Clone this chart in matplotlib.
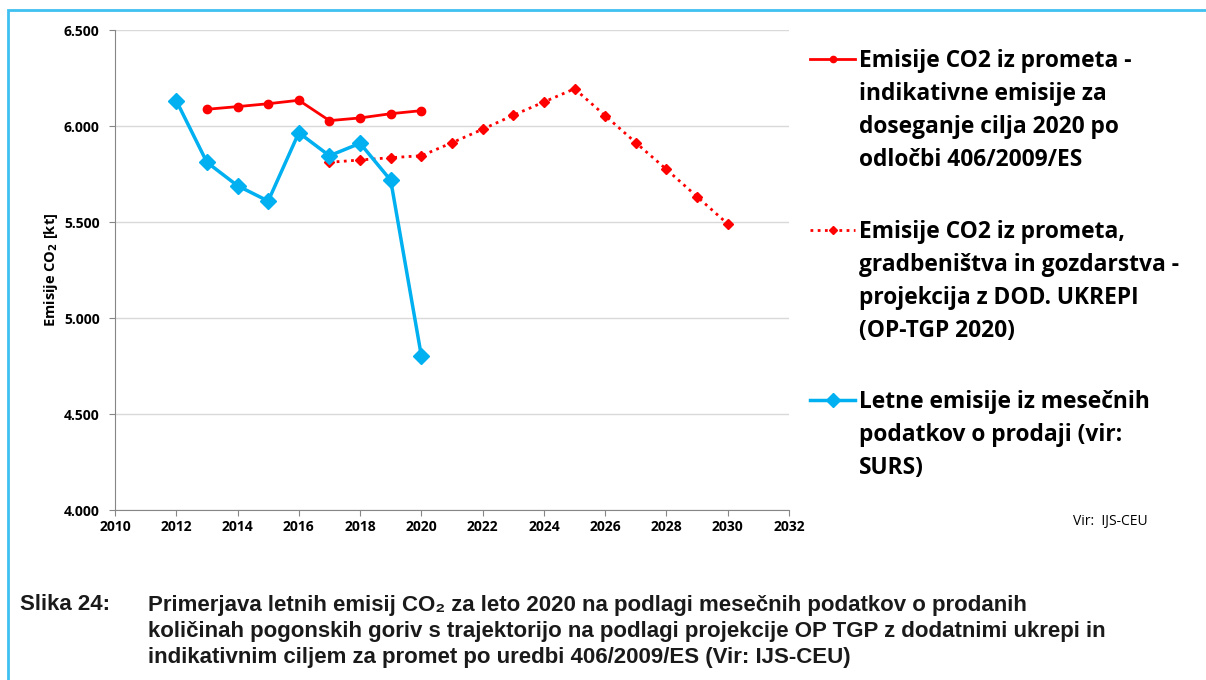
import matplotlib.pyplot as plt
from matplotlib.lines import Line2D
from matplotlib.patches import Rectangle
from matplotlib.ticker import FuncFormatter

# data (kt CO2)
years_target = [2013, 2014, 2015, 2016, 2017, 2018, 2019, 2020]
target = [6087, 6101, 6116, 6134, 6028, 6042, 6064, 6080]

years_proj = list(range(2017, 2031))
projection = [5811, 5823, 5835, 5845, 5913, 5983, 6056, 6125, 6194,
              6054, 5913, 5774, 5632, 5490]

years_surs = list(range(2012, 2021))
surs = [6132, 5811, 5689, 5609, 5965, 5845, 5910, 5717, 4802]

labels = [
    "Emisije CO2 iz prometa -\nindikativne emisije za\ndoseganje cilja 2020 po\nodločbi 406/2009/ES",
    "Emisije CO2 iz prometa,\ngradbeništva in gozdarstva -\nprojekcija z DOD. UKREPI\n(OP-TGP 2020)",
    "Letne emisije iz mesečnih\npodatkov o prodaji (vir:\nSURS)",
]

RED = "#FF0000"
BLUE = "#00B0F0"

plt.rcParams['font.family'] = ['Open Sans', 'DejaVu Sans']
plt.rcParams['font.weight'] = 'bold'

fig = plt.figure(figsize=(12.06, 6.8), dpi=100)
ax = fig.add_axes([115 / 1206, 1 - 510 / 680, 674 / 1206, 480 / 680])

ax.plot(years_target, target, color=RED, lw=2, marker='o', ms=6)
ax.plot(years_proj, projection, color=RED, lw=2, ls=(0, (1, 1.6)),
        marker='D', ms=5.5)
ax.plot(years_surs, surs, color=BLUE, lw=2.5, marker='D', ms=8.5)

ax.set_xlim(2010, 2032)
ax.set_ylim(4000, 6500)
ax.set_xticks(range(2010, 2033, 2))
ax.set_yticks(range(4000, 6501, 500))
ax.yaxis.set_major_formatter(FuncFormatter(lambda v, p: f"{int(v):,}".replace(",", ".")))
ax.grid(axis='y', color='#d9d9d9', lw=1)
ax.set_axisbelow(True)
for s in ['top', 'right']:
    ax.spines[s].set_visible(False)
for s in ['left', 'bottom']:
    ax.spines[s].set_color('#868686')
ax.tick_params(colors='#868686', length=4, labelcolor='black', labelsize=10)
ax.tick_params(axis='y', pad=7)
ax.set_ylabel("Emisije CO$_\\mathbf{2}$ [kt]", fontsize=10.5, fontweight='bold', labelpad=3)

# manual legend (figure pixel coords)
def px(x, y):
    return x / 1206, 1 - y / 680

legend_style = [
    dict(color=RED, lw=2, ls='-', marker='o', ms=4.5),
    dict(color=RED, lw=2, ls=(0, (1, 1.6)), marker='D', ms=4.5),
    dict(color=BLUE, lw=2.5, ls='-', marker='D', ms=7),
]
legend_y = [59, 230, 400]
for lab, st, y in zip(labels, legend_style, legend_y):
    x0, y0 = px(810, y)
    x1, _ = px(855, y)
    fig.add_artist(Line2D([x0, x1], [y0, y0], transform=fig.transFigure,
                          color=st['color'], lw=st['lw'], ls=st['ls']))
    fig.add_artist(Line2D([(x0 + x1) / 2], [y0], transform=fig.transFigure,
                          color=st['color'], marker=st['marker'], ms=st['ms'], ls='none'))
    tx, ty = px(859, y - 10)
    fig.text(tx, ty, lab, fontsize=16.4, fontweight='bold', va='top',
             ha='left', linespacing=1.5)

fig.text(*px(1073, 522), "Vir:  IJS-CEU", fontsize=10, fontweight='normal', va='center')

# caption
cap_font = dict(family='Liberation Sans', fontsize=16, fontweight='bold',
                color='#1a1a1a', va='center')
fig.text(*px(20, 605), "Slika 24:", **cap_font)
cap_lines = [
    "Primerjava letnih emisij CO₂ za leto 2020 na podlagi mesečnih podatkov o prodanih",
    "količinah pogonskih goriv s trajektorijo na podlagi projekcije OP TGP z dodatnimi ukrepi in",
    "indikativnim ciljem za promet po uredbi 406/2009/ES (Vir: IJS-CEU)",
]
for i, line in enumerate(cap_lines):
    fig.text(*px(148, 605 + 26.5 * i), line, **cap_font)

# light blue frame
fig.add_artist(Rectangle(px(8, 690), 1210 / 1206, 680 / 680, transform=fig.transFigure,
                         fill=False, edgecolor='#3EC1F0', lw=2))

fig.savefig("out.png", dpi=100)
